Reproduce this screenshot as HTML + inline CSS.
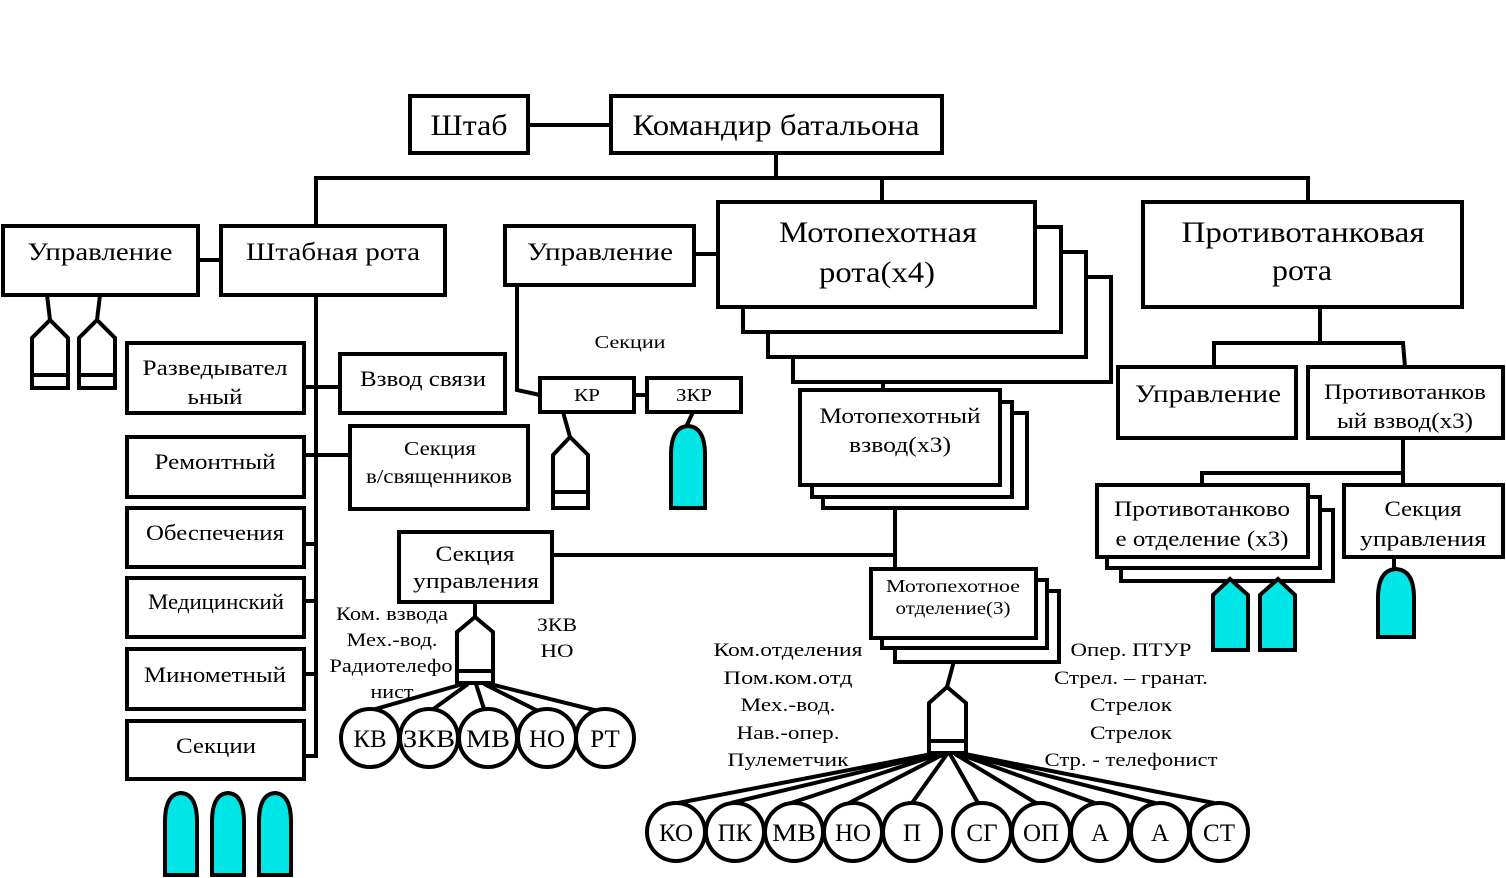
<!DOCTYPE html>
<html><head><meta charset="utf-8"><style>
html,body{margin:0;padding:0;background:#fff;}
svg{display:block}
text{font-family:"Liberation Serif","DejaVu Serif",serif;fill:#000;stroke:none}
</style></head><body>
<svg width="1506" height="878" viewBox="0 0 1506 878" xmlns="http://www.w3.org/2000/svg">
<!-- connectors -->
<g fill="none" stroke="#000" stroke-width="4">
 <path d="M528,125 H611"/>
 <path d="M776,153 V178"/>
 <path d="M314,178 H1310"/>
 <path d="M882,178 V202"/>
 <path d="M1308,178 V202"/>
 <path d="M316,178 V226"/>
 <path d="M198,260 H221"/>
 <path d="M316,295 V758"/>
 <path d="M304,387 H340"/>
 <path d="M304,455 H350"/>
 <path d="M304,544 H316 M304,601 H316 M304,674 H316 M304,756 H316"/>
 <path d="M694,254 H718"/>
 <path d="M517,285 V390 L540,395"/>
 <path d="M634,395 H647"/>
 <path d="M563,412 L570,437"/>
 <path d="M693,412 L686,427"/>
 <path d="M883,380 V390"/>
 <path d="M895,508 V569"/>
 <path d="M552,555 H897"/>
 <path d="M954,661 L947,687"/>
 <path d="M475,602 V617"/>
 <path d="M1320,307 V343"/>
 <path d="M1212,343 H1403 L1405,367"/>
 <path d="M1214,343 V367"/>
 <path d="M1403,438 V485"/>
 <path d="M1200,473 H1403"/>
 <path d="M1202,473 V485"/>
 <path d="M1394,557 V570"/>
 <path d="M47,295 L50,320 M100,295 L97,320"/>
 <!-- KB fan -->
 <path d="M463,684 L372,710 M468,684 L432,710 M476,684 L484,709 M484,684 L540,712 M490,684 L598,711"/>
 <!-- main fan -->
 <path d="M932,754 L678,803 M936,754 L731,803 M940,754 L791,803 M944,754 L849,803 M947,754 L912,803 M950,754 L978,803 M955,754 L1036,803 M959,754 L1095,803 M962,754 L1155,803 M965,754 L1214,803"/>
</g>

<!-- boxes -->
<g fill="#fff" stroke="#000" stroke-width="4">
 <rect x="410" y="96" width="118" height="57"/>
 <rect x="611" y="96" width="331" height="57"/>
 <rect x="3" y="226" width="195" height="69"/>
 <rect x="221" y="226" width="224" height="69"/>
 <rect x="505" y="226" width="189" height="59"/>
 <!-- rota stack -->
 <rect x="793" y="277" width="318" height="105"/>
 <rect x="768" y="252" width="318" height="105"/>
 <rect x="743" y="227" width="318" height="105"/>
 <rect x="718" y="202" width="317" height="105"/>
 <rect x="1143" y="202" width="319" height="105"/>
 <rect x="127" y="343" width="177" height="70"/>
 <rect x="340" y="354" width="165" height="59"/>
 <rect x="127" y="437" width="177" height="60"/>
 <rect x="350" y="426" width="178" height="83"/>
 <rect x="127" y="508" width="177" height="59"/>
 <rect x="127" y="578" width="177" height="59"/>
 <rect x="127" y="649" width="177" height="60"/>
 <rect x="127" y="721" width="177" height="58"/>
 <rect x="540" y="378" width="94" height="34"/>
 <rect x="647" y="378" width="94" height="34"/>
 <!-- vzvod stack -->
 <rect x="823" y="413" width="204" height="95"/>
 <rect x="812" y="402" width="200" height="95"/>
 <rect x="800" y="390" width="200" height="95"/>
 <rect x="399" y="532" width="153" height="70"/>
 <!-- otdelenie stack -->
 <rect x="895" y="591" width="164" height="71"/>
 <rect x="882" y="580" width="165" height="68"/>
 <rect x="871" y="569" width="165" height="69"/>
 <rect x="1118" y="367" width="178" height="71"/>
 <rect x="1308" y="367" width="195" height="71"/>
 <!-- PT otdelenie stack -->
 <rect x="1121" y="510" width="212" height="71"/>
 <rect x="1107" y="497" width="213" height="71"/>
 <rect x="1097" y="485" width="211" height="72"/>
 <rect x="1344" y="485" width="159" height="72"/>
</g>

<!-- icons -->
<g stroke="#000" stroke-width="4" fill="#fff" stroke-linejoin="miter">
 <path d="M32,388 V338 L50,320 L68,338 V388 Z M32,375 H68"/>
 <path d="M79,388 V338 L97,320 L115,338 V388 Z M79,375 H115"/>
 <path d="M553,508 V455 L570,437 L588,455 V508 Z M553,492 H588"/>
 <path d="M457,683 V632 L475,617 L493,632 V683 Z M457,671 H493"/>
 <path d="M929,753 V703 L947,687 L966,703 V753 Z M929,741 H966"/>
</g>
<g stroke="#000" stroke-width="4" fill="#00e6e6">
 <path d="M165,875 V822 Q165,794 181,793 Q197,794 197,822 V875 Z"/>
 <path d="M212,875 V822 Q212,794 228,793 Q244,794 244,822 V875 Z"/>
 <path d="M259,875 V822 Q259,794 275,793 Q291,794 291,822 V875 Z"/>
 <path d="M671,508 V455 Q671,427 688,426 Q705,427 705,455 V508 Z"/>
 <path d="M1378,637 V598 Q1378,570 1396,569 Q1414,570 1414,598 V637 Z"/>
 <path d="M1213,650 V595 L1230,579 L1248,595 V650 Z"/>
 <path d="M1260,650 V595 L1278,579 L1295,595 V650 Z"/>
</g>

<!-- circles -->
<g stroke="#000" stroke-width="4" fill="#fff">
 <circle cx="370" cy="738" r="29"/>
 <circle cx="429" cy="738" r="29"/>
 <circle cx="488" cy="738" r="29"/>
 <circle cx="547" cy="738" r="29"/>
 <circle cx="605" cy="738" r="29"/>
 <circle cx="676" cy="832" r="29"/>
 <circle cx="735" cy="832" r="29"/>
 <circle cx="794" cy="832" r="29"/>
 <circle cx="853" cy="832" r="29"/>
 <circle cx="912" cy="832" r="29"/>
 <circle cx="982" cy="832" r="29"/>
 <circle cx="1041" cy="832" r="29"/>
 <circle cx="1100" cy="832" r="29"/>
 <circle cx="1160" cy="832" r="29"/>
 <circle cx="1219" cy="832" r="29"/>
</g>

<!-- texts -->
<g text-anchor="middle" lengthAdjust="spacingAndGlyphs">
 <text x="469" y="135" font-size="30" textLength="77" lengthAdjust="spacingAndGlyphs">Штаб</text>
 <text x="776" y="135" font-size="30" textLength="287" lengthAdjust="spacingAndGlyphs">Командир батальона</text>
 <text x="100" y="260" font-size="25" textLength="145" lengthAdjust="spacingAndGlyphs">Управление</text>
 <text x="333" y="260" font-size="25" textLength="174" lengthAdjust="spacingAndGlyphs">Штабная рота</text>
 <text x="600" y="260" font-size="25" textLength="146" lengthAdjust="spacingAndGlyphs">Управление</text>
 <text x="878" y="242" font-size="30" textLength="198" lengthAdjust="spacingAndGlyphs">Мотопехотная</text>
 <text x="877" y="282" font-size="30" textLength="116" lengthAdjust="spacingAndGlyphs">рота(х4)</text>
 <text x="1303" y="242" font-size="30" textLength="243" lengthAdjust="spacingAndGlyphs">Противотанковая</text>
 <text x="1302" y="280" font-size="30" textLength="60" lengthAdjust="spacingAndGlyphs">рота</text>
 <text x="630" y="348" font-size="18" textLength="71" lengthAdjust="spacingAndGlyphs">Секции</text>
 <text x="215" y="375" font-size="22" textLength="145" lengthAdjust="spacingAndGlyphs">Разведывател</text>
 <text x="215" y="404" font-size="22" textLength="55" lengthAdjust="spacingAndGlyphs">ьный</text>
 <text x="423" y="386" font-size="22" textLength="126" lengthAdjust="spacingAndGlyphs">Взвод связи</text>
 <text x="587" y="401" font-size="18" textLength="26" lengthAdjust="spacingAndGlyphs">КР</text>
 <text x="694" y="401" font-size="18" textLength="36" lengthAdjust="spacingAndGlyphs">ЗКР</text>
 <text x="215" y="469" font-size="22" textLength="121" lengthAdjust="spacingAndGlyphs">Ремонтный</text>
 <text x="440" y="455" font-size="20" textLength="72" lengthAdjust="spacingAndGlyphs">Секция</text>
 <text x="439" y="483" font-size="20" textLength="146" lengthAdjust="spacingAndGlyphs">в/священников</text>
 <text x="215" y="540" font-size="22" textLength="138" lengthAdjust="spacingAndGlyphs">Обеспечения</text>
 <text x="216" y="609" font-size="22" textLength="136" lengthAdjust="spacingAndGlyphs">Медицинский</text>
 <text x="215" y="682" font-size="22" textLength="142" lengthAdjust="spacingAndGlyphs">Минометный</text>
 <text x="216" y="753" font-size="22" textLength="80" lengthAdjust="spacingAndGlyphs">Секции</text>
 <text x="900" y="423" font-size="22" textLength="161" lengthAdjust="spacingAndGlyphs">Мотопехотный</text>
 <text x="900" y="452" font-size="22" textLength="102" lengthAdjust="spacingAndGlyphs">взвод(х3)</text>
 <text x="475" y="561" font-size="22" textLength="79" lengthAdjust="spacingAndGlyphs">Секция</text>
 <text x="476" y="588" font-size="22" textLength="126" lengthAdjust="spacingAndGlyphs">управления</text>
 <text x="392" y="620" font-size="19" textLength="112" lengthAdjust="spacingAndGlyphs">Ком. взвода</text>
 <text x="392" y="646" font-size="19" textLength="91" lengthAdjust="spacingAndGlyphs">Мех.-вод.</text>
 <text x="391" y="672" font-size="19" textLength="123" lengthAdjust="spacingAndGlyphs">Радиотелефо</text>
 <text x="392" y="698" font-size="19" textLength="43" lengthAdjust="spacingAndGlyphs">нист</text>
 <text x="557" y="631" font-size="19" textLength="40" lengthAdjust="spacingAndGlyphs">ЗКВ</text>
 <text x="557" y="657" font-size="19" textLength="33" lengthAdjust="spacingAndGlyphs">НО</text>
 <text x="953" y="592" font-size="18" textLength="134" lengthAdjust="spacingAndGlyphs">Мотопехотное</text>
 <text x="953" y="614" font-size="18" textLength="115" lengthAdjust="spacingAndGlyphs">отделение(3)</text>
 <text x="788" y="656" font-size="19" textLength="149" lengthAdjust="spacingAndGlyphs">Ком.отделения</text>
 <text x="788" y="684" font-size="19" textLength="129" lengthAdjust="spacingAndGlyphs">Пом.ком.отд</text>
 <text x="788" y="711" font-size="19" textLength="95" lengthAdjust="spacingAndGlyphs">Мех.-вод.</text>
 <text x="788" y="739" font-size="19" textLength="103" lengthAdjust="spacingAndGlyphs">Нав.-опер.</text>
 <text x="788" y="766" font-size="19" textLength="121" lengthAdjust="spacingAndGlyphs">Пулеметчик</text>
 <text x="1131" y="656" font-size="19" textLength="121" lengthAdjust="spacingAndGlyphs">Опер. ПТУР</text>
 <text x="1131" y="684" font-size="19" textLength="154" lengthAdjust="spacingAndGlyphs">Стрел. – гранат.</text>
 <text x="1131" y="711" font-size="19" textLength="82" lengthAdjust="spacingAndGlyphs">Стрелок</text>
 <text x="1131" y="739" font-size="19" textLength="82" lengthAdjust="spacingAndGlyphs">Стрелок</text>
 <text x="1131" y="766" font-size="19" textLength="173" lengthAdjust="spacingAndGlyphs">Стр. - телефонист</text>
 <text x="1208" y="402" font-size="25" textLength="146" lengthAdjust="spacingAndGlyphs">Управление</text>
 <text x="1405" y="399" font-size="22" textLength="162" lengthAdjust="spacingAndGlyphs">Противотанков</text>
 <text x="1405" y="428" font-size="22" textLength="136" lengthAdjust="spacingAndGlyphs">ый взвод(х3)</text>
 <text x="1202" y="516" font-size="22" textLength="176" lengthAdjust="spacingAndGlyphs">Противотанково</text>
 <text x="1202" y="546" font-size="22" textLength="173" lengthAdjust="spacingAndGlyphs">е отделение (х3)</text>
 <text x="1423" y="516" font-size="22" textLength="77" lengthAdjust="spacingAndGlyphs">Секция</text>
 <text x="1423" y="546" font-size="22" textLength="126" lengthAdjust="spacingAndGlyphs">управления</text>
 <!-- circle labels -->
 <text x="370" y="747" font-size="25">КВ</text>
 <text x="429" y="747" font-size="25" textLength="52" lengthAdjust="spacingAndGlyphs">ЗКВ</text>
 <text x="488" y="747" font-size="25" textLength="44" lengthAdjust="spacingAndGlyphs">МВ</text>
 <text x="547" y="747" font-size="25">НО</text>
 <text x="605" y="747" font-size="25">РТ</text>
 <text x="676" y="841" font-size="25">КО</text>
 <text x="735" y="841" font-size="25">ПК</text>
 <text x="794" y="841" font-size="25" textLength="44" lengthAdjust="spacingAndGlyphs">МВ</text>
 <text x="853" y="841" font-size="25">НО</text>
 <text x="912" y="841" font-size="25">П</text>
 <text x="982" y="841" font-size="25">СГ</text>
 <text x="1041" y="841" font-size="25">ОП</text>
 <text x="1100" y="841" font-size="25">А</text>
 <text x="1160" y="841" font-size="25">А</text>
 <text x="1219" y="841" font-size="25">СТ</text>
</g>
</svg>
</body></html>
